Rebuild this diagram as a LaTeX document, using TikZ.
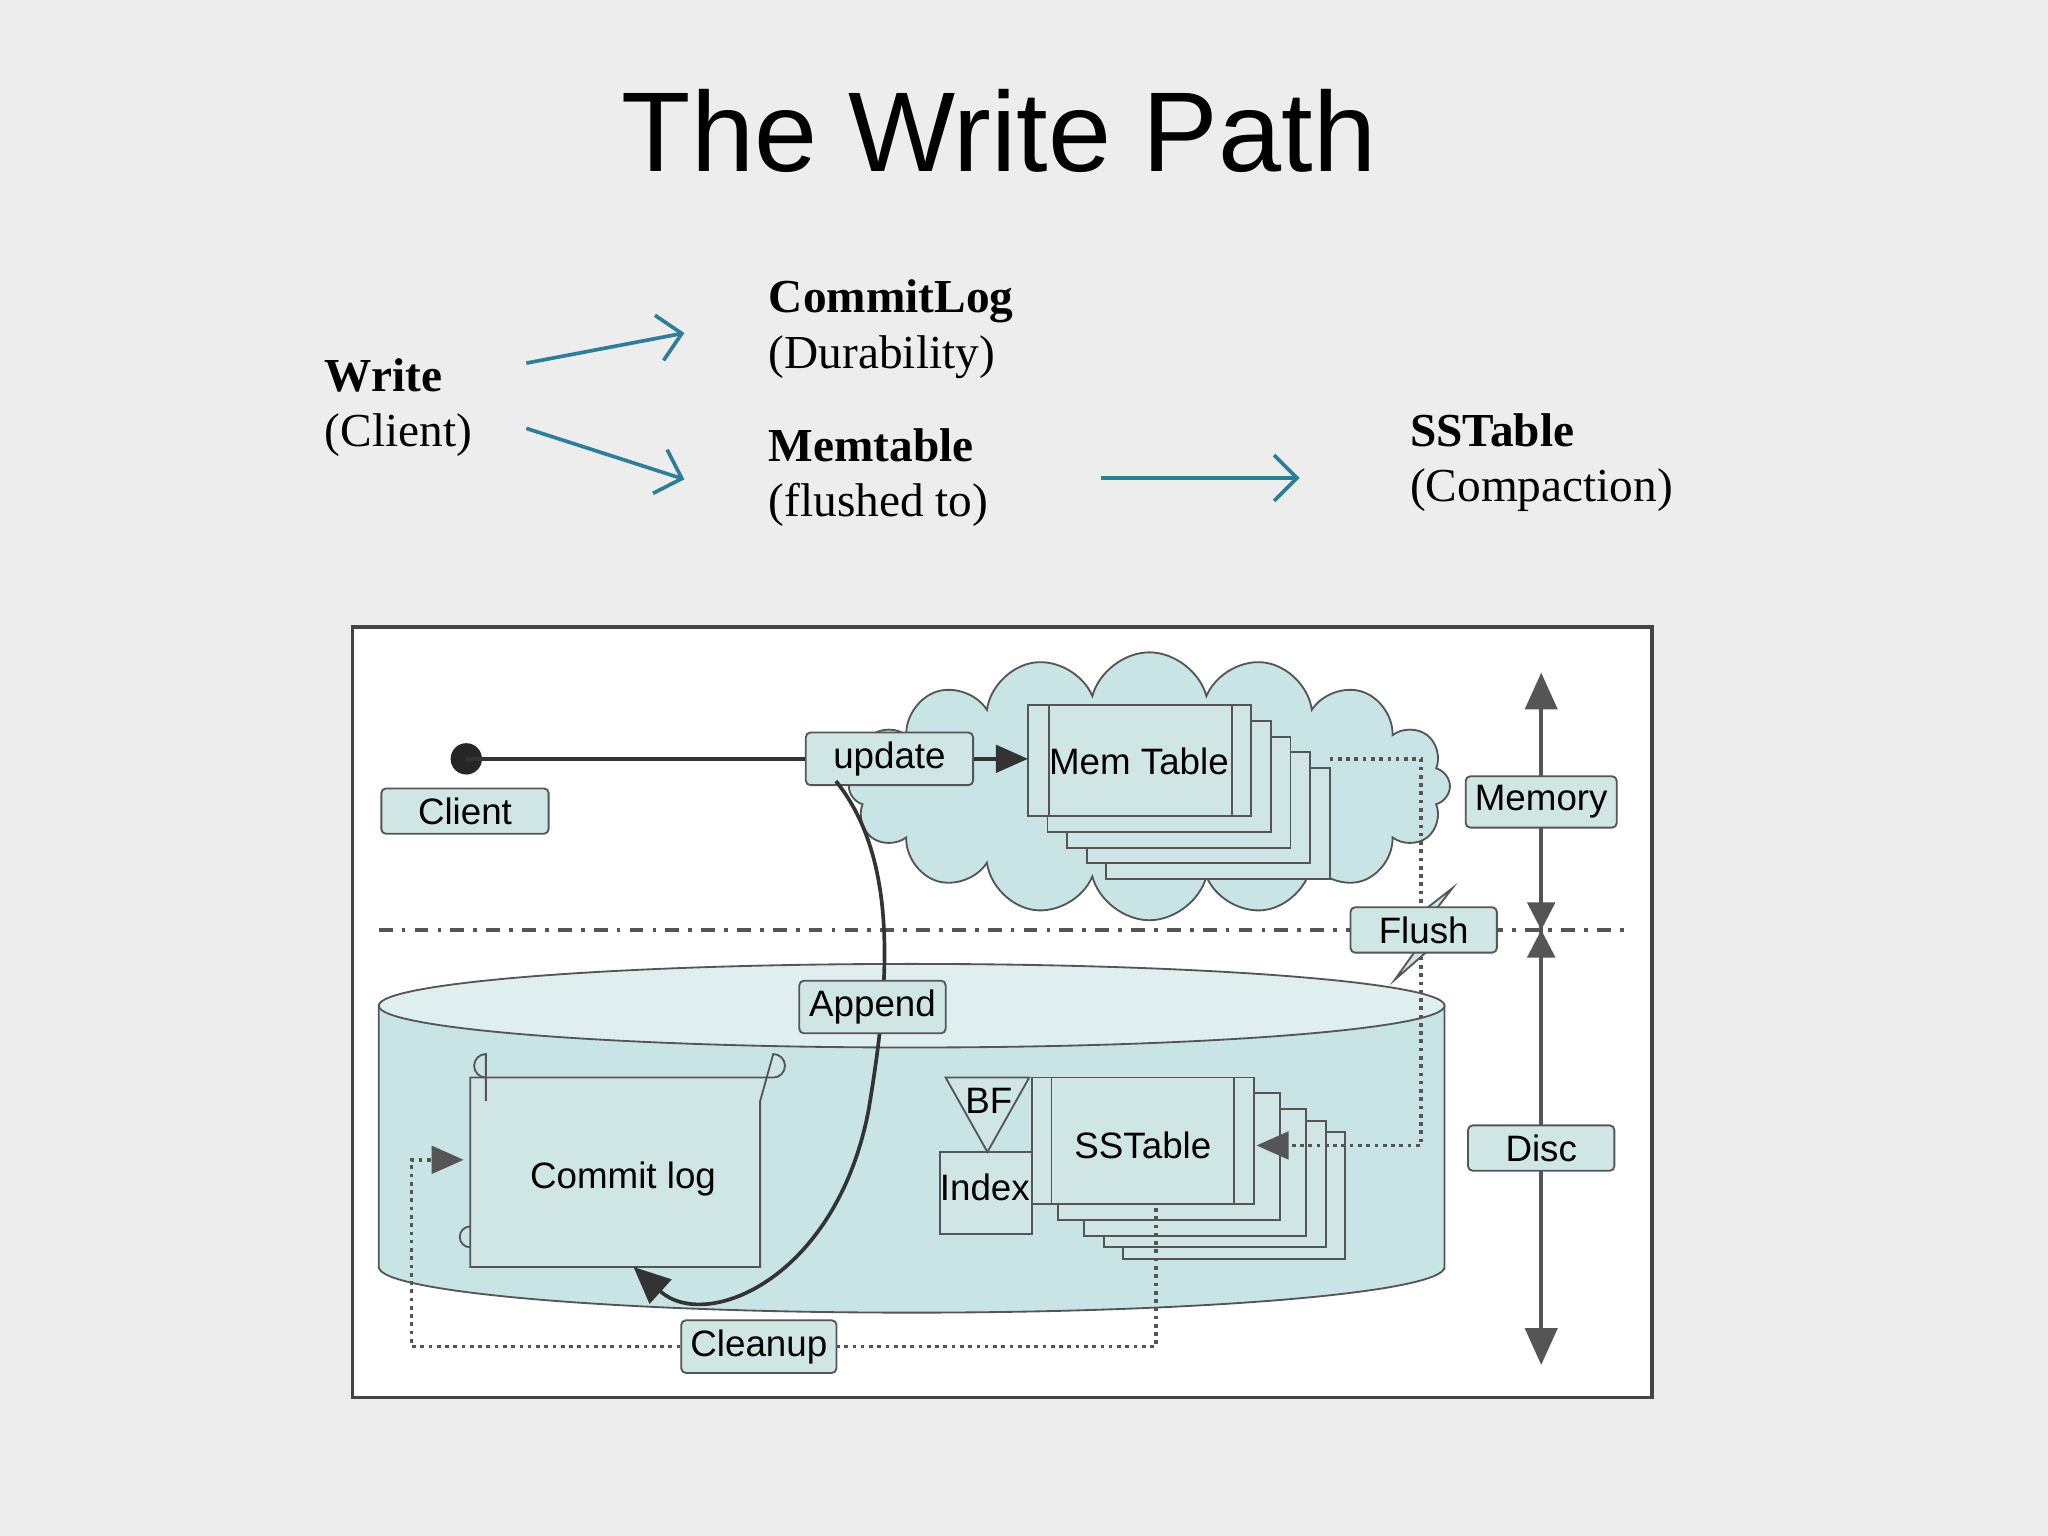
\documentclass[tikz,border=0pt]{standalone}
\usepackage{fontspec}
\setmainfont{Liberation Serif}
\newfontfamily\sansf{Liberation Sans}
\usetikzlibrary{shapes.symbols,arrows.meta}
\definecolor{teal1}{HTML}{2E7E9A}
\definecolor{pale}{HTML}{C9E4E4}
\definecolor{boxc}{HTML}{CFE6E5}
\definecolor{ink}{HTML}{555555}
\begin{document}
\begin{tikzpicture}[x=0.01cm,y=-0.01cm,
  big/.style={font=\fontsize{10.3}{12}\selectfont,anchor=west,align=left,inner sep=0},
  tarr/.style={teal1,thick,-{Straight Barb[length=5pt]}},
  lbl/.style={draw=ink,fill=boxc,font=\sansf\fontsize{8}{10}\selectfont,inner sep=2pt,rounded corners=1pt,minimum height=0.33cm},
  txt/.style={font=\sansf\fontsize{8}{10}\selectfont},
  pg/.style={draw=ink,fill=boxc},
  dot/.style={ink,densely dotted,thick}]
\fill[gray!14] (0,0) rectangle (1568,1176);
\useasboundingbox (0,0) rectangle (1568,1176);
\node[font=\sansf\fontsize{24.7}{28}\selectfont] (title) at (765,100) {The Write Path};
% upper flow
\node[big] (w) at (248,312) {\textbf{Write}\\(Client)};
\node[big] (c) at (588,252) {\textbf{CommitLog}\\(Durability)};
\node[big] (m) at (588,366) {\textbf{Memtable}\\(flushed to)};
\node[big] (s) at (1079,354) {\textbf{SSTable}\\(Compaction)};
\coordinate (w1) at (403,278); \coordinate (c1) at (524,255);
\coordinate (w2) at (403,328); \coordinate (m1) at (524,367);
\coordinate (m2) at (843,366); \coordinate (s1) at (995,366);
\draw[tarr] (w1) -- (c1);
\draw[tarr] (w2) -- (m1);
\draw[tarr] (m2) -- (s1);
% frame
\draw[fill=white,draw=ink!80!black,thick] (270,480) rectangle (1265,1070);
% cloud
\node[cloud,cloud puffs=16,aspect=2.3,fill=pale,draw=ink,minimum width=4.6cm,minimum height=2.05cm] (cl) at (880,602) {};
% dash-dot line
\draw[ink,thick,dash dot] (290,712) -- (1245,712);
% cylinder
\fill[pale] (290,770) -- (290,970) arc[start angle=180,end angle=0,x radius=408,y radius=35] -- (1106,770) -- cycle;
\draw[ink] (290,770) -- (290,970) arc[start angle=180,end angle=0,x radius=408,y radius=35] -- (1106,770);
\draw[ink,fill=pale!60!white] (698,770) ellipse[x radius=408,y radius=32];
% mem table stack
\foreach \d in {60,45,30,15}
  \draw[pg] (787+\d,540+\d*0.8) rectangle (958+\d,625+\d*0.8);
\draw[pg] (787,540) rectangle (958,625);
\draw[ink] (803,540) -- (803,625) (943,540) -- (943,625);
\node[txt] (mt) at (872,583) {Mem Table};
% sstable stack
\draw[pg] (720,882) rectangle (790,945);
\foreach \d in {70,55,40,20}
  \draw[pg] (790+\d,825+\d*0.6) rectangle (960+\d,922+\d*0.6);
\draw[pg] (790,825) rectangle (960,922);
\draw[ink] (805,825) -- (805,922) (945,825) -- (945,922);
\node[txt] (st) at (875,877) {SSTable};
\draw[pg] (724,825) -- (788,825) -- (756,882) -- cycle;
\node[txt] (bf) at (757,843) {BF};
\node[txt,inner sep=1pt] (ix) at (754,909) {Index};
% commit log scroll
\draw[pg] (360,825) -- (592,825) arc[start angle=90,end angle=-90,radius=9] -- (582,843) -- (582,970) -- (360,970) -- cycle;
\draw[ink] (372,825) arc[start angle=90,end angle=270,radius=9] -- (372,843);
\draw[ink] (360,955) arc[start angle=90,end angle=270,radius=8];
\node[txt] (cl2) at (477,903) {Commit log};
% client and update
\fill[black!85] (357,581) circle (12);
\coordinate (cdot) at (357,581);
\node[lbl,minimum width=1.28cm] (client) at (356,621) {Client};
\node[lbl,minimum width=1.28cm] (upd) at (681,581) {update};
\draw[black!80,thick] (cdot) -- (upd.west);
\draw[black!80,thick,-{Triangle[length=7pt,width=6pt]}] (upd.east) -- (787,581);
% append curve
\draw[black!80,thick,-{Triangle[length=8pt,width=7pt]}] (640,598) .. controls (690,660) and (680,760) .. (665,850) .. controls (640,980) and (540,1020) .. (485,970);
\node[lbl,minimum width=1.12cm] (app) at (668,771) {Append};
% flush dotted path
\coordinate (f1) at (1018,581); \coordinate (f2) at (1088,581);
\coordinate (f3) at (1088,877);
\draw[dot,-{Triangle[length=7pt,width=6pt]}] (f1) -- (f2) -- (f3) -- (962,877);
\draw[pg] (1112,680) -- (1080,705) -- (1095,712) -- (1068,750) -- (1100,722) -- (1085,715) -- cycle;
\node[lbl,minimum width=1.12cm] (flush) at (1090,712) {Flush};
% cleanup
\node[lbl,minimum width=1.1cm] (clean) at (581,1031) {Cleanup};
\coordinate (k1) at (885,925); \coordinate (k2) at (885,1031);
\coordinate (k3) at (315,1031); \coordinate (k4) at (315,888);
\draw[dot] (k1) -- (k2) -- (clean.east);
\draw[dot,-{Triangle[length=7pt,width=6pt]}] (clean.west) -- (k3) -- (k4) -- (355,888);
% memory/disc axis
\coordinate (a1) at (1180,515); \coordinate (a2) at (1180,712); \coordinate (a3) at (1180,1045);
\draw[ink,thick,-{Triangle[length=8pt,width=7pt]}] (a2) -- (a1);
\draw[ink,thick,-{Triangle[length=8pt,width=7pt]}] (a2) -- (a3);
\draw[ink,thick,-{Triangle[length=6pt,width=6pt]}] (1180,724) -- (a2);
\draw[ink,thick,-{Triangle[length=6pt,width=6pt]}] (1180,700) -- (a2);
\node[lbl,minimum width=1.12cm] (mem) at (1180,614) {Memory};
\node[lbl,minimum width=1.12cm] (disc) at (1180,879) {Disc};
\end{tikzpicture}
\end{document}
